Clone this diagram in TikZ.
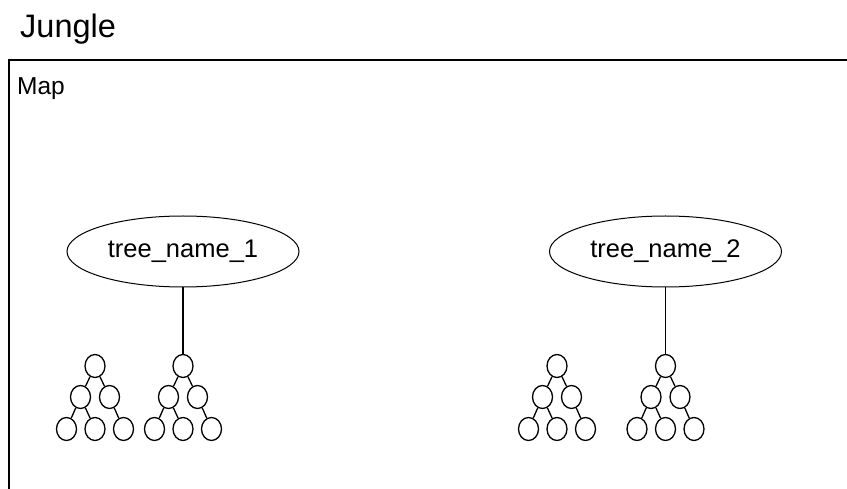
\documentclass[tikz,border=0pt]{standalone}
\usepackage{fontspec}
\setmainfont{Liberation Sans}
\usetikzlibrary{shapes.geometric}
\tikzset{
  frameline/.style={line width=1.4pt},
  bigell/.style={draw, ellipse, line width=1pt, minimum width=232pt, minimum height=71pt, inner sep=0pt, font=\fontsize{25.5}{30}\selectfont},
  tnode/.style={draw, ellipse, line width=1.3pt, minimum width=20pt, minimum height=23pt, inner sep=0pt},
  tedge/.style={line width=1.3pt},
  lbl/.style={anchor=base west, inner sep=0pt}
}
\newcommand\smalltree[2]{%
  \node[tnode] (#1r) at (#2,366) {};
  \node[tnode] (#1a) at (#2-14.5,397) {};
  \node[tnode] (#1b) at (#2+14.5,397) {};
  \node[tnode] (#1c) at (#2-28.5,429) {};
  \node[tnode] (#1d) at (#2,429) {};
  \node[tnode] (#1e) at (#2+28.5,429) {};
  \draw[tedge] (#1r) -- (#1a);
  \draw[tedge] (#1r) -- (#1b);
  \draw[tedge] (#1a) -- (#1c);
  \draw[tedge] (#1a) -- (#1d);
  \draw[tedge] (#1b) -- (#1e);
}
\begin{document}
\begin{tikzpicture}[x=1pt,y=-1pt]
\useasboundingbox (0,0) rectangle (847,489);
\node[lbl, font=\fontsize{32.5}{38}\selectfont] (jungle) at (20,38) {Jungle};
\coordinate (fbl) at (9,490);
\coordinate (ftl) at (9,60);
\coordinate (ftr) at (848,60);
\draw[frameline] (fbl) -- (ftl) -- (ftr);
\node[lbl, font=\fontsize{24.5}{28}\selectfont] (map) at (17,94.5) {Map};
\node[bigell] (t1) at (183,251.5) {tree\_name\_1};
\node[bigell] (t2) at (665.5,251.5) {tree\_name\_2};
\smalltree{p}{95}
\smalltree{q}{183}
\smalltree{s}{557}
\smalltree{u}{665.5}
\draw[tedge] (t1) -- (qr);
\draw[tedge] (t2) -- (ur);
\end{tikzpicture}
\end{document}
